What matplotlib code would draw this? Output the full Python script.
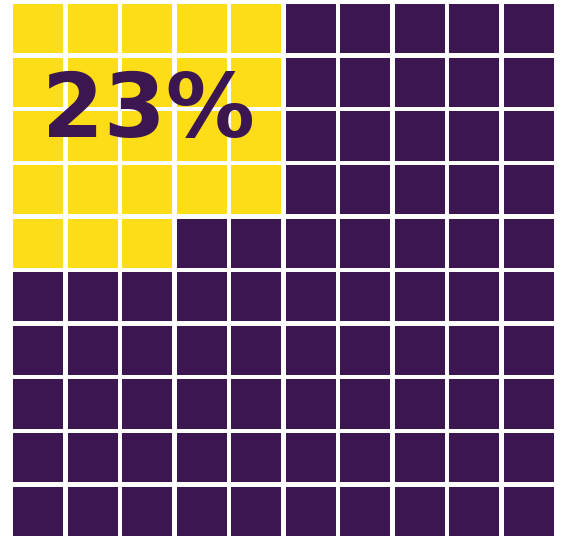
import matplotlib.pyplot as plt
from matplotlib.patches import Rectangle

share = 23
n_rows = 10
n_cols = 10
colors = ['#FDDD17', '#3B1650']
label = '23%'

fig = plt.figure(figsize=(5.68, 5.38), dpi=100)
ax = fig.add_axes([13 / 568, 2 / 538, 541 / 568, 532 / 538])
gap = 0.082

# yellow block fills the left half row by row
left = [(r, c) for r in range(n_rows) for c in range(5)]
yellow = set(left[:share])

for r in range(n_rows):
    for c in range(n_cols):
        col = colors[0] if (r, c) in yellow else colors[1]
        ax.add_patch(Rectangle((c, n_rows - 1 - r), 1 - gap, 1 - gap,
                               facecolor=col, edgecolor='none'))

ax.set_xlim(0, n_cols - gap)
ax.set_ylim(0, n_rows - gap)
ax.axis('off')

fig.text(42 / 568, 1 - 137 / 538, label, fontsize=64, fontweight='bold',
         color=colors[1], ha='left', va='baseline')

fig.savefig('out.png', dpi=100)
